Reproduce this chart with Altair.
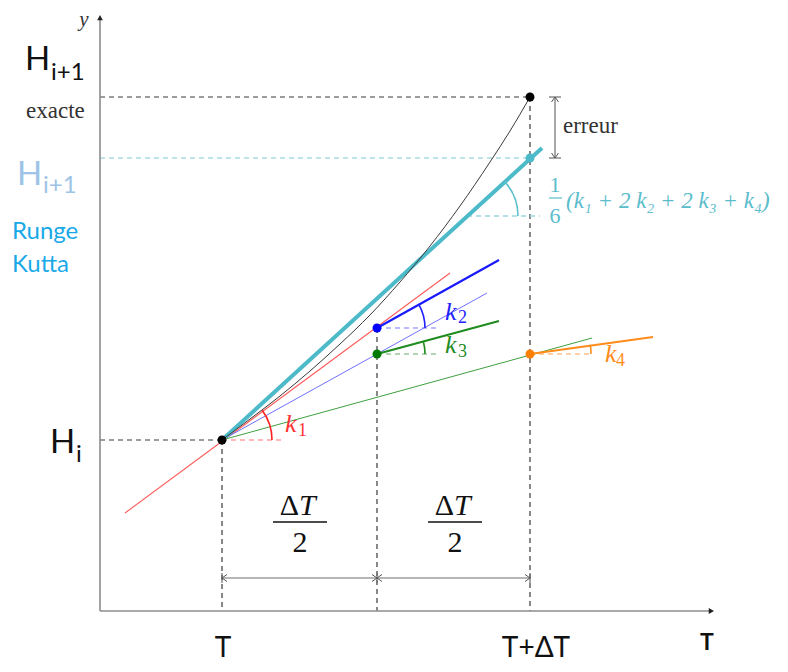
import math
import altair as alt
import pandas as pd

# ---------------- data (diagram units, origin = corner of the axes) ----------------
# time positions: T, T + dT/2, T + dT
t_pos = [122, 277, 430]
t_labels = ["T", "T+ΔT"]
# H levels: H_i, H_{i+1} exact, H_{i+1} Runge-Kutta
h_i, h_exact, h_rk = 171, 514, 453

# exact solution
curve_t = [122, 150, 180, 210, 240, 270, 300, 330, 360, 390, 410, 430]
curve_h = [171, 192, 215, 240, 267, 296, 329, 365, 405, 449, 480, 514]

# slope lines k1..k4 and the RK combination
slope_names = ["k1", "k2_from_Hi", "k3_from_Hi", "k2", "k3", "k4", "rk"]
slope_x0 = [25, 122, 122, 277, 277, 430, 122]
slope_y0 = [98, 171, 171, 283, 257, 257, 171]
slope_x1 = [350, 387, 492, 399, 399, 553, 442]
slope_y1 = [338, 318, 273, 351, 290, 274, 463]

# intermediate points
pt_x = [122, 430, 277, 277, 430, 430]
pt_y = [171, 514, 283, 257, 257, 453]

# ---------------- styling ----------------
SANS = "Lato"
SERIF = "Liberation Serif"
XS = alt.Scale(domain=[-92, 680], nice=False, zero=False)
YS = alt.Scale(domain=[-53, 603], nice=False, zero=False)


def X(f="x"):
    return alt.X(f"{f}:Q", scale=XS, axis=None)


def Y(f="y"):
    return alt.Y(f"{f}:Q", scale=YS, axis=None)


slope_col = ["#ff5a5a", "#7070ff", "#3f9f3f", "#1a1aff", "#1e8c1e", "#ff8c1a", "#4dbac9"]
slope_w = [1.1, 1.0, 1.0, 2.2, 2.2, 2.2, 4.0]

solid_rows = []
for i in range(len(slope_names)):
    solid_rows.append(dict(x=slope_x0[i], y=slope_y0[i], x2=slope_x1[i], y2=slope_y1[i],
                           c=slope_col[i], w=slope_w[i]))
# axes
solid_rows.append(dict(x=0, y=0, x2=0, y2=592, c="#8c8c8c", w=1.6))
solid_rows.append(dict(x=0, y=0, x2=610, y2=0, c="#8c8c8c", w=1.6))
# dimension line dT/2 | dT/2
DIM_Y = 33
solid_rows.append(dict(x=t_pos[0], y=DIM_Y, x2=t_pos[2], y2=DIM_Y, c="#6e6e6e", w=1.2))
for tp in t_pos:
    solid_rows.append(dict(x=tp, y=DIM_Y - 5, x2=tp, y2=DIM_Y + 5, c="#6e6e6e", w=1.2))
# error bracket
ERR_X = 455
solid_rows.append(dict(x=ERR_X, y=h_rk, x2=ERR_X, y2=h_exact, c="#6e6e6e", w=1.2))
for hv in (h_rk, h_exact):
    solid_rows.append(dict(x=ERR_X - 6, y=hv, x2=ERR_X + 6, y2=hv, c="#6e6e6e", w=1.2))
# fraction bars
for cx in (200, 355):
    solid_rows.append(dict(x=cx - 27, y=89, x2=cx + 27, y2=89, c="#111111", w=1.3))
solid_rows.append(dict(x=449, y=413, x2=462, y2=413, c="#5bbccc", w=1.2))
solid_df = pd.DataFrame(solid_rows)

dash_rows = [
    dict(x=0, y=h_exact, x2=t_pos[2], y2=h_exact, c="#3a3a3a", w=1.2),
    dict(x=t_pos[2], y=h_exact, x2=t_pos[2], y2=0, c="#3a3a3a", w=1.2),
    dict(x=0, y=h_rk, x2=t_pos[2], y2=h_rk, c="#a6dbe4", w=1.5),
    dict(x=0, y=h_i, x2=t_pos[0], y2=h_i, c="#3a3a3a", w=1.2),
    dict(x=t_pos[0], y=h_i, x2=t_pos[0], y2=0, c="#3a3a3a", w=1.2),
    dict(x=t_pos[1], y=pt_y[2], x2=t_pos[1], y2=0, c="#3a3a3a", w=1.2),
    dict(x=122, y=171, x2=185, y2=171, c="#ff7070", w=1.2),
    dict(x=277, y=283, x2=338, y2=283, c="#7777ff", w=1.2),
    dict(x=277, y=257, x2=338, y2=257, c="#66aa66", w=1.2),
    dict(x=430, y=257, x2=492, y2=257, c="#ffa050", w=1.2),
    dict(x=367, y=395, x2=440, y2=395, c="#9ad7e0", w=1.4),
]
dash_df = pd.DataFrame(dash_rows)

solid = alt.Chart(solid_df).mark_rule(strokeCap="butt").encode(
    x=X("x"), y=Y("y"), x2="x2:Q", y2="y2:Q",
    color=alt.Color("c:N", scale=None), strokeWidth=alt.StrokeWidth("w:Q", scale=None))
dashed = alt.Chart(dash_df).mark_rule(strokeDash=[5, 4], strokeCap="butt").encode(
    x=X("x"), y=Y("y"), x2="x2:Q", y2="y2:Q",
    color=alt.Color("c:N", scale=None), strokeWidth=alt.StrokeWidth("w:Q", scale=None))

curve = alt.Chart(pd.DataFrame({"x": curve_t, "y": curve_h})).mark_line(
    interpolate="monotone", color="#3a3a3a", strokeWidth=1).encode(x=X("x"), y=Y("y"), order="x:Q")

# angle arcs: (center x, center y, radius, slope index, colour)
arc_specs = [
    (122, 171, 50, 0, "#ff2020"),
    (277, 283, 48, 3, "#2020ff"),
    (277, 257, 48, 4, "#228b22"),
    (430, 257, 61, 5, "#ff8c1a"),
    (367, 395, 51, 6, "#5bbfcc"),
]
arc_rows = []
for cx, cy, r, si, col in arc_specs:
    a = math.atan2(slope_y1[si] - slope_y0[si], slope_x1[si] - slope_x0[si])
    arc_rows.append(dict(x=cx, y=cy, th=math.pi / 2 - a, th2=math.pi / 2, r=r + 0.8, r2=r - 0.8, c=col))
arcs = alt.Chart(pd.DataFrame(arc_rows)).mark_arc().encode(
    x=X("x"), y=Y("y"),
    theta=alt.Theta("th:Q", scale=None, stack=False), theta2="th2:Q",
    radius=alt.Radius("r:Q", scale=None), radius2="r2:Q",
    color=alt.Color("c:N", scale=None))

pt_col = ["#000000", "#000000", "#0000ff", "#007a00", "#ff8000", "#4dbac9"]
points = alt.Chart(pd.DataFrame({"x": pt_x, "y": pt_y, "c": pt_col})).mark_circle(
    opacity=1, size=80).encode(x=X("x"), y=Y("y"), color=alt.Color("c:N", scale=None))

# arrow heads
CHEV = "M-1,-0.7L0,0L-1,0.7"
TRI = "M-1,-0.55L0,0L-1,0.55Z"
chev_df = pd.DataFrame([
    dict(x=t_pos[0], y=DIM_Y, a=180), dict(x=t_pos[1], y=DIM_Y, a=0),
    dict(x=t_pos[1], y=DIM_Y, a=180), dict(x=t_pos[2], y=DIM_Y, a=0),
    dict(x=ERR_X, y=h_exact, a=270), dict(x=ERR_X, y=h_rk, a=90),
])
chevs = alt.Chart(chev_df).mark_point(shape=CHEV, filled=False, size=100, strokeWidth=1,
                                      color="#555555", opacity=1).encode(
    x=X("x"), y=Y("y"), angle=alt.Angle("a:Q", scale=None))
tri_df = pd.DataFrame([dict(x=0, y=596, a=270), dict(x=614, y=0, a=0)])
tris = alt.Chart(tri_df).mark_point(shape=TRI, filled=True, size=110, color="#222222",
                                    opacity=1).encode(
    x=X("x"), y=Y("y"), angle=alt.Angle("a:Q", scale=None))


def text_layer(rows, font, size, style="normal", weight="normal", align="left"):
    df = pd.DataFrame(rows, columns=["t", "x", "y", "c"])
    return alt.Chart(df).mark_text(font=font, fontSize=size, fontStyle=style, fontWeight=weight,
                                   align=align, baseline="alphabetic").encode(
        x=X("x"), y=Y("y"), text="t:N", color=alt.Color("c:N", scale=None))


texts = [
    text_layer([["H", -75, 541, "#111111"], ["H", -50, 158, "#111111"],
                ["H", -83, 426, "#9dc3e6"]], SANS, 33),
    text_layer([["i+1", -49, 531, "#111111"], ["i", -24, 149, "#111111"],
                ["i+1", -57, 418, "#9dc3e6"]], SANS, 24),
    text_layer([["Runge", -88, 372, "#1aa9e8"], ["Kutta", -88, 339, "#1aa9e8"]], SANS, 24),
    text_layer([[t_labels[0], t_pos[0] + 1, -46, "#111111"],
                [t_labels[1], t_pos[2] + 6, -46, "#111111"]], SANS, 28, align="center"),
    text_layer([["T", 607, -39, "#111111"]], SANS, 23, weight="bold", align="center"),
    text_layer([["y", -16, 585, "#333333"]], SERIF, 21, style="italic", align="center"),
    text_layer([["exacte", -74, 493, "#333333"], ["erreur", 463, 478, "#333333"]], SERIF, 23),
    text_layer([["Δ", 199, 96, "#111111"], ["Δ", 354, 96, "#111111"]], SERIF, 30, align="right"),
    text_layer([["T", 199, 96, "#111111"], ["T", 354, 96, "#111111"]], SERIF, 30, style="italic"),
    text_layer([["2", 200, 59, "#111111"], ["2", 355, 59, "#111111"]], SERIF, 30, align="center"),
    text_layer([["1", 455, 419, "#5bbccc"], ["6", 455, 388, "#5bbccc"]], SERIF, 22, align="center"),
    text_layer([["(k₁ + 2 k₂ + 2 k₃ + k₄)", 466, 403, "#5bbccc"]], SERIF, 23, style="italic"),
    text_layer([["k", 185, 179, "#ff3333"], ["k", 345, 291, "#2222ff"],
                ["k", 345, 258, "#228b22"], ["k", 505, 249, "#ff8c1a"]], SERIF, 26, style="italic"),
    text_layer([["1", 198, 175, "#ff3333"], ["2", 358, 288, "#2222ff"],
                ["3", 358, 254, "#228b22"], ["4", 516, 245, "#ff8c1a"]], SERIF, 18),
]

chart = alt.layer(dashed, solid, curve, arcs, points, chevs, tris, *texts).properties(
    width=772, height=656, autosize=alt.AutoSizeParams(type="none"), padding=0,
    background="white",
).configure_view(stroke=None)

chart.save("out.html", embed_options={"renderer": "svg", "actions": False})
